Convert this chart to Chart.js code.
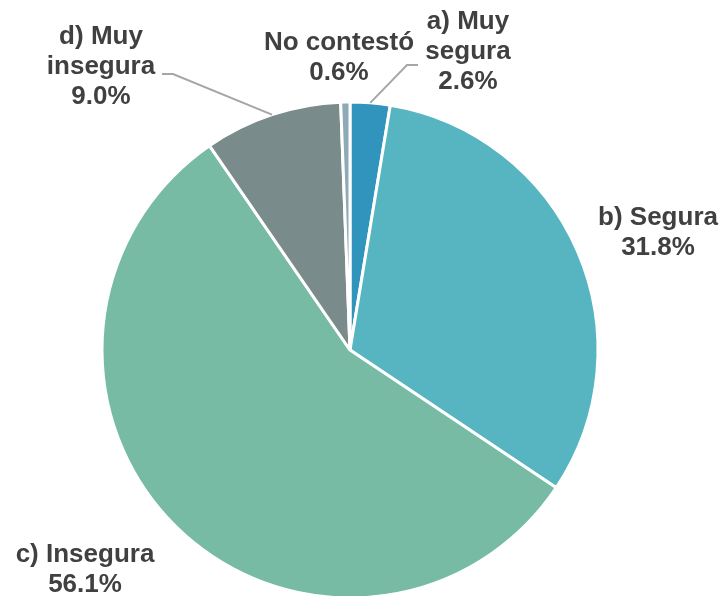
<!DOCTYPE html>
<html><head><meta charset="utf-8">
<script src="https://cdn.jsdelivr.net/npm/chart.js@4/dist/chart.umd.min.js"></script>
<style>html,body{margin:0;padding:0;background:#fff}#wrap{width:724px;height:596px;position:relative}</style>
</head><body><div id="wrap"><canvas id="c" width="724" height="596"></canvas></div>
<script>
const categories = ["a) Muy segura", "b) Segura", "c) Insegura", "d) Muy insegura", "No contestó"];
const values = [2.6, 31.8, 56.1, 9.0, 0.6];
const labelLines = [["a) Muy", "segura", "2.6%"], ["b) Segura", "31.8%"], ["c) Insegura", "56.1%"], ["d) Muy", "insegura", "9.0%"], ["No contestó", "0.6%"]];
const colors = ["#3194BC", "#57B5C1", "#77BBA5", "#798B8A", "#8EAAB6"];

// label placement relative to pie center (text block center, optional leader elbow/end)
const labelLayout = [
  {tx: 118, ty: -298, elbow: [57, -285], end: [68, -285]},
  {tx: 308, ty: -117},
  {tx: -265, ty: 220},
  {tx: -249, ty: -283, elbow: [-177, -276], end: [-188, -276]},
  {tx: -11, ty: -292}
];

const labelPlugin = {
  id: 'pieLabels',
  afterDatasetsDraw(chart) {
    const ctx = chart.ctx;
    const meta = chart.getDatasetMeta(0);
    ctx.save();
    meta.data.forEach((arc, i) => {
      const L = labelLayout[i];
      const cx = arc.x, cy = arc.y;
      if (L.elbow) {
        const mid = (arc.startAngle + arc.endAngle) / 2;
        const r = arc.outerRadius;
        ctx.beginPath();
        ctx.strokeStyle = '#A6A6A6';
        ctx.lineWidth = 2;
        ctx.moveTo(cx + r * Math.cos(mid), cy + r * Math.sin(mid));
        ctx.lineTo(cx + L.elbow[0], cy + L.elbow[1]);
        ctx.lineTo(cx + L.end[0], cy + L.end[1]);
        ctx.stroke();
      }
      const lines = labelLines[i];
      const lh = 30;
      ctx.fillStyle = '#404040';
      ctx.font = 'bold 26px "Liberation Sans", Arial, sans-serif';
      ctx.textAlign = 'center';
      ctx.textBaseline = 'middle';
      const y0 = cy + L.ty - (lines.length - 1) * lh / 2;
      lines.forEach((t, k) => ctx.fillText(t, cx + L.tx, y0 + k * lh));
    });
    ctx.restore();
  }
};

new Chart(document.getElementById('c'), {
  type: 'pie',
  data: {
    labels: categories,
    datasets: [{
      data: values,
      backgroundColor: colors,
      borderColor: '#ffffff',
      borderWidth: 3
    }]
  },
  options: {
    responsive: false,
    animation: false,
    radius: 248,
    layout: {padding: {top: 104, left: 0, right: 24, bottom: 0}},
    plugins: {legend: {display: false}, tooltip: {enabled: false}}
  },
  plugins: [labelPlugin]
});
</script></body></html>
